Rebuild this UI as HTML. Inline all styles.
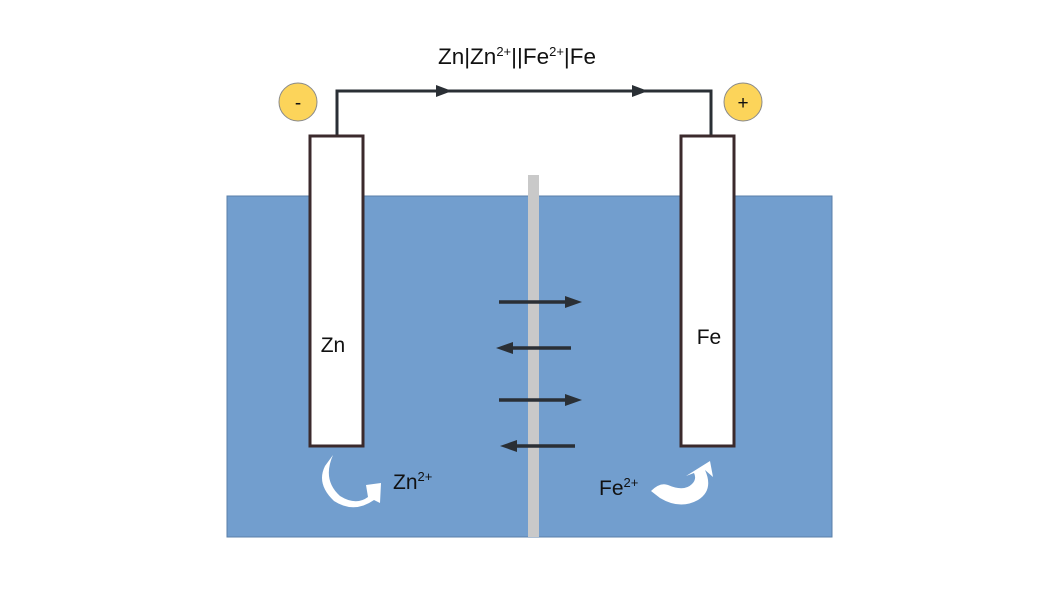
<!DOCTYPE html>
<html><head><meta charset="utf-8"><style>html,body{margin:0;padding:0;background:#fff}svg{display:block}</style></head>
<body>
<svg width="1058" height="595" viewBox="0 0 1058 595" xmlns="http://www.w3.org/2000/svg" font-family="Liberation Sans, sans-serif">
<rect x="227" y="196" width="605" height="341" fill="#729ece" stroke="#5a7fa8" stroke-width="1"/>
<rect x="528" y="175" width="11" height="362" fill="#c9c9c9"/>
<path d="M337,136 V91 H711 V136" fill="none" stroke="#2a2f35" stroke-width="3"/>
<path d="M436,85 L452,91 L436,97 Z" fill="#2a2f35"/>
<path d="M632,85 L648,91 L632,97 Z" fill="#2a2f35"/>
<circle cx="298" cy="102" r="19" fill="#fcd45a" stroke="#8a8a8a" stroke-width="1"/>
<text x="298" y="109" font-size="19" text-anchor="middle" fill="#111">-</text>
<circle cx="743" cy="102" r="19" fill="#fcd45a" stroke="#8a8a8a" stroke-width="1"/>
<text x="743" y="109" font-size="19" text-anchor="middle" fill="#111">+</text>
<text x="517" y="64" font-size="22.5" text-anchor="middle" fill="#111">Zn|Zn<tspan font-size="13" dy="-8">2+</tspan><tspan dy="8">||Fe</tspan><tspan font-size="13" dy="-8">2+</tspan><tspan dy="8">|Fe</tspan></text>
<rect x="310" y="136" width="53" height="310" fill="#fff" stroke="#3b2a2c" stroke-width="3"/>
<rect x="681" y="136" width="53" height="310" fill="#fff" stroke="#3b2a2c" stroke-width="3"/>
<text x="333" y="352" font-size="21" text-anchor="middle" fill="#111">Zn</text>
<text x="709" y="344" font-size="21" text-anchor="middle" fill="#111">Fe</text>
<line x1="499" y1="302" x2="568" y2="302" stroke="#2a2f35" stroke-width="3.5"/>
<path d="M565,296 L582,302 L565,308 Z" fill="#2a2f35"/>
<line x1="571" y1="348" x2="510" y2="348" stroke="#2a2f35" stroke-width="3.5"/>
<path d="M513,342 L496,348 L513,354 Z" fill="#2a2f35"/>
<line x1="499" y1="400" x2="568" y2="400" stroke="#2a2f35" stroke-width="3.5"/>
<path d="M565,394 L582,400 L565,406 Z" fill="#2a2f35"/>
<line x1="575" y1="446" x2="514" y2="446" stroke="#2a2f35" stroke-width="3.5"/>
<path d="M517,440 L500,446 L517,452 Z" fill="#2a2f35"/>
<path d="M333,455 Q322,480 340,496 Q356,506 368,497 L366,485 L381,483 L380,503 L374,500 Q354,514 334,501 Q316,484 325,466 Z" fill="#fff"/>
<path d="M705,470 Q714,490 698,500 Q680,510 660,498 L651,491 Q660,482 668,485 Q684,492 692,484 Q697,479 694,473 L686,476 L710,461 L713,477 Z" fill="#fff"/>
<text x="393" y="489" font-size="21" fill="#111">Zn<tspan font-size="13" dy="-8">2+</tspan></text>
<text x="599" y="495" font-size="21" fill="#111">Fe<tspan font-size="13" dy="-8">2+</tspan></text>
</svg>
</body></html>
